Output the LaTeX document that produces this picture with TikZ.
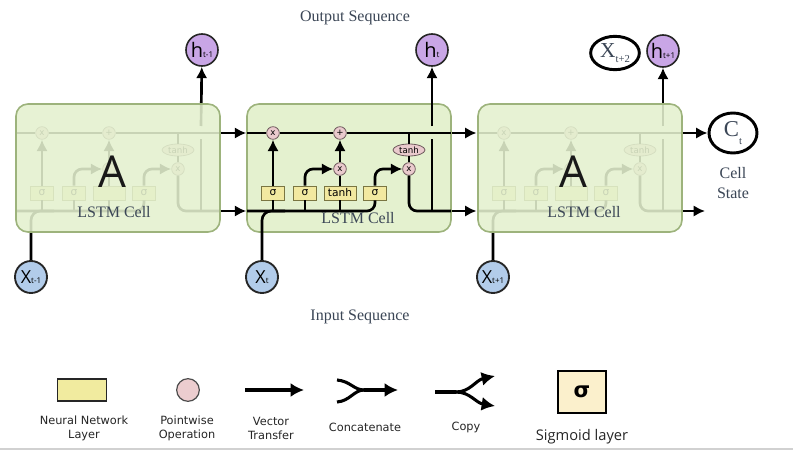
\documentclass[tikz,border=0pt]{standalone}
\usepackage{fontspec}
\setmainfont{Liberation Serif}
\newfontfamily\dvs{DejaVu Sans}
\newfontfamily\osans{Open Sans}
\usetikzlibrary{arrows.meta,calc,shapes.geometric}
\definecolor{cellfill}{HTML}{E4F1CF}
\definecolor{cellborder}{HTML}{9DB37C}
\definecolor{layerfill}{HTML}{F2E9A0}
\definecolor{layerborder}{HTML}{7A7642}
\definecolor{pwfill}{HTML}{EACACD}
\definecolor{pwborder}{HTML}{6E5B5D}
\definecolor{xfill}{HTML}{B2CCEA}
\definecolor{hfill}{HTML}{C9A6E6}
\definecolor{labeltext}{HTML}{3B4656}
\definecolor{sigfill}{HTML}{FBF0CC}
\definecolor{legyellow}{HTML}{F1EB9F}
\definecolor{legpink}{HTML}{ECCDCF}
\begin{document}
\begin{tikzpicture}[x=0.75pt,y=-0.75pt,
  line/.style={line width=2pt, draw=black},
  arr/.style={line, -{Latex[length=8.5pt,width=8.5pt]}},
  legarr/.style={line width=2.3pt, draw=black, -{Latex[length=10pt,width=10.5pt]}},
  cellbox/.style={draw=cellborder, line width=1.2pt, fill=cellfill, rounded corners=9pt, minimum width=153pt, minimum height=96pt, inner sep=0pt},
  veil/.style={cellbox, fill opacity=0.88},
  layer/.style={draw=layerborder, fill=layerfill, line width=0.6pt, minimum height=10.5pt, inner sep=0pt, font=\dvs\fontsize{8}{8}\selectfont},
  pw/.style={circle, draw=pwborder, fill=pwfill, line width=0.6pt, minimum size=9.5pt, inner sep=0pt, font=\dvs\fontsize{6.5}{6.5}\selectfont},
  tn/.style={ellipse, draw=pwborder, fill=pwfill, line width=0.6pt, minimum width=24pt, minimum height=9pt, inner sep=0pt, font=\dvs\fontsize{6.5}{6.5}\selectfont},
  xin/.style={circle, draw=black!85, fill=xfill, line width=1.4pt, minimum size=24pt, inner sep=0pt},
  hout/.style={circle, draw=black!85, fill=hfill, line width=1.2pt, minimum size=24pt, inner sep=0pt},
  wring/.style={ellipse, draw=black, fill=white, line width=2.2pt, inner sep=0pt},
  serlab/.style={text=labeltext, font=\fontsize{12}{13}\selectfont, inner sep=0pt},
  leglab/.style={text=black!85, font=\dvs\fontsize{8.5}{10.5}\selectfont, align=center, inner sep=0pt},
  bigA/.style={font=\osans\fontsize{33}{33}\selectfont, text=black!90, inner sep=0pt}
]
\useasboundingbox (0,0) rectangle (793,450);
\fill[white] (0,0) rectangle (793,450);
\draw[black!18, line width=1.5pt] (0,448.5) -- (793,448.5);

% middle cell box
\node[cellbox] (cell2) at (349,168) {};
\node[serlab] (lab2) at (358,218) {LSTM Cell};

% outer circles
\node[hout] (h1) at (202,50) {\osans\fontsize{15}{15}\selectfont h\raisebox{-0.5pt}{\fontsize{6}{6}\selectfont t-1}};
\node[hout] (h2) at (432,50) {\osans\fontsize{15}{15}\selectfont h\raisebox{-0.5pt}{\fontsize{6}{6}\selectfont t}};
\node[hout] (h3) at (663,51) {\osans\fontsize{15}{15}\selectfont h\raisebox{-0.5pt}{\fontsize{6}{6}\selectfont t+1}};
\node[xin] (x1) at (31,277) {\osans\fontsize{13.5}{13.5}\selectfont X\raisebox{-0.5pt}{\fontsize{6}{6}\selectfont t-1}};
\node[xin] (x2) at (262,277) {\osans\fontsize{13.5}{13.5}\selectfont X\raisebox{-0.5pt}{\fontsize{6}{6}\selectfont t}};
\node[xin] (x3) at (493,277) {\osans\fontsize{13.5}{13.5}\selectfont X\raisebox{-0.5pt}{\fontsize{6}{6}\selectfont t+1}};
\node[wring, minimum width=36.5pt, minimum height=25pt] (xt2) at (615,53) {\color{labeltext}\fontsize{16}{16}\selectfont X\raisebox{-4pt}{\fontsize{8}{8}\selectfont t+2}};
\node[wring, minimum width=36pt, minimum height=30pt] (ct) at (733,133) {\color{labeltext}\fontsize{17}{17}\selectfont C\raisebox{-6pt}{\fontsize{8}{8}\selectfont t}};

% inner structure of the three cells
\foreach \i/\dx in {1/-231,2/0,3/231}{
\begin{scope}[shift={(\dx,0)}]
  \coordinate (tlL\i) at (247,133);
  \coordinate (tlR\i) at (451,133);
  \coordinate (blL\i) at (247,211);
  \coordinate (blR\i) at (451,211);
  \coordinate (hb\i) at (432,211);
  \coordinate (hg\i) at (432,139);
  \coordinate (ht\i) at (432,126);
  \coordinate (jn\i) at (285,211);
  \node[layer, minimum width=17pt] (sa\i) at (273,193) {σ};
  \node[layer, minimum width=17pt] (sb\i) at (305,193) {σ};
  \ifnum\i=2
    \node[layer, minimum width=24pt] (tb\i) at (340,193) {tanh};
  \else
    \node[layer, minimum width=24pt] (tb\i) at (340,193) {};
  \fi
  \node[layer, minimum width=17pt] (sc\i) at (375,193) {σ};
  \node[pw] (ma\i) at (273,133) {x};
  \node[pw] (pl\i) at (340,133) {+};
  \ifnum\i=2
    \node[pw] (mb\i) at (340,169) {x};
  \else
    \node[pw] (mb\i) at (340,169) {};
  \fi
  \node[tn] (te\i) at (409,150) {tanh};
  \node[pw] (mc\i) at (409,169) {x};
  \draw[line] (tlL\i) -- (ma\i) -- (pl\i) -- (tlR\i);
  \draw[line, rounded corners=6pt] (blL\i) -| (sc\i.south);
  \draw[line] (sa\i.south |- blL\i) -- (sa\i.south);
  \draw[line] (sb\i.south |- blL\i) -- (sb\i.south);
  \draw[line] (tb\i.south |- blL\i) -- (tb\i.south);
  \draw[arr] (sa\i) -- (ma\i);
  \draw[arr, rounded corners=6pt] (sb\i.north) |- (mb\i.west);
  \draw[line] (tb\i) -- (mb\i);
  \draw[arr] (mb\i) -- (pl\i);
  \draw[arr, rounded corners=6pt] (sc\i.north) |- (mc\i.west);
  \draw[line] (te\i.north |- tlL\i) -- (te\i);
  \draw[line] (te\i) -- (mc\i);
  \draw[line, rounded corners=6pt] (mc\i.south) |- (blR\i);
  \draw[line] (hb\i) -- (hg\i);
  \draw[arr] (ht\i) -- (h\i);
  \draw[line, rounded corners=7pt] (x\i) |- (jn\i);
\end{scope}
}

% faded outer cells
\node[veil] (cell1) at (118,168) {};
\node[veil] (cell3) at (580,168) {};
\node[bigA] (a1) at (112,172) {A};
\node[bigA] (a3) at (573,172) {A};
\node[serlab] (lab1) at (114,212) {LSTM Cell};
\node[serlab] (lab3) at (584,212) {LSTM Cell};

% arrows between cells
\draw[arr] (cell1.east |- tlL1) -- (cell2.west |- tlL1);
\draw[arr] (cell1.east |- blL1) -- (cell2.west |- blL1);
\draw[arr] (cell2.east |- tlL2) -- ([xshift=-0.5pt]cell3.west |- tlL2);
\draw[arr] (cell2.east |- blL2) -- ([xshift=-0.5pt]cell3.west |- blL2);
\draw[arr] (cell3.east |- tlL3) -- (ct);
\coordinate (outend) at (705,211);
\draw[arr] (cell3.east |- blL3) -- (outend);

% labels
\node[serlab] (outseq) at (355,18) {Output Sequence};
\node[serlab] (inseq) at (360,317) {Input Sequence};
\node[serlab, align=center, font=\fontsize{12}{14.5}\selectfont] (cstate) at (733,183) {Cell\\State};

% legend
\node[draw=black!85, fill=legyellow, line width=1pt, minimum width=36.5pt, minimum height=16.5pt] (lglayer) at (82,390) {};
\node[leglab] (lglayerlab) at (84,428) {Neural Network\\Layer};
\node[circle, draw=black!70, fill=legpink, line width=0.9pt, minimum size=17pt, inner sep=0pt] (lgpw) at (188,390) {};
\node[leglab] (lgpwlab) at (187,428) {Pointwise\\Operation};
\coordinate (vtA) at (245,390);
\coordinate (vtB) at (304,390);
\draw[legarr] (vtA) -- (vtB);
\node[leglab] (lgvtlab) at (271,428) {Vector\\Transfer};
\coordinate (ccA) at (337,380);
\coordinate (ccB) at (337,402);
\coordinate (ccM) at (364,390);
\coordinate (ccE) at (398,390);
\draw[line width=2.3pt] (ccA) .. controls (350,381) and (354,390) .. (ccM);
\draw[line width=2.3pt] (ccB) .. controls (350,401) and (354,390) .. (ccM);
\draw[legarr] (ccM) -- (ccE);
\node[leglab] (lgcclab) at (365,427) {Concatenate};
\coordinate (cpA) at (435,392);
\coordinate (cpM) at (456,392);
\coordinate (cpU) at (495,376);
\coordinate (cpD) at (495,406);
\draw[line width=2.3pt] (cpA) -- (cpM);
\draw[legarr] (cpM) .. controls (470,392) and (476,380) .. (cpU);
\draw[legarr] (cpM) .. controls (470,392) and (476,403) .. (cpD);
\node[leglab] (lgcplab) at (466,427) {Copy};
\node[draw=black, fill=sigfill, line width=1.2pt, minimum width=36pt, minimum height=31.5pt, inner sep=0pt, font=\dvs\bfseries\fontsize{16}{16}\selectfont] (lgsig) at (582,392) {σ};
\node[text=black!85, font=\osans\fontsize{11}{11}\selectfont, inner sep=0pt] (lgsiglab) at (582,437) {Sigmoid layer};
\end{tikzpicture}
\end{document}
